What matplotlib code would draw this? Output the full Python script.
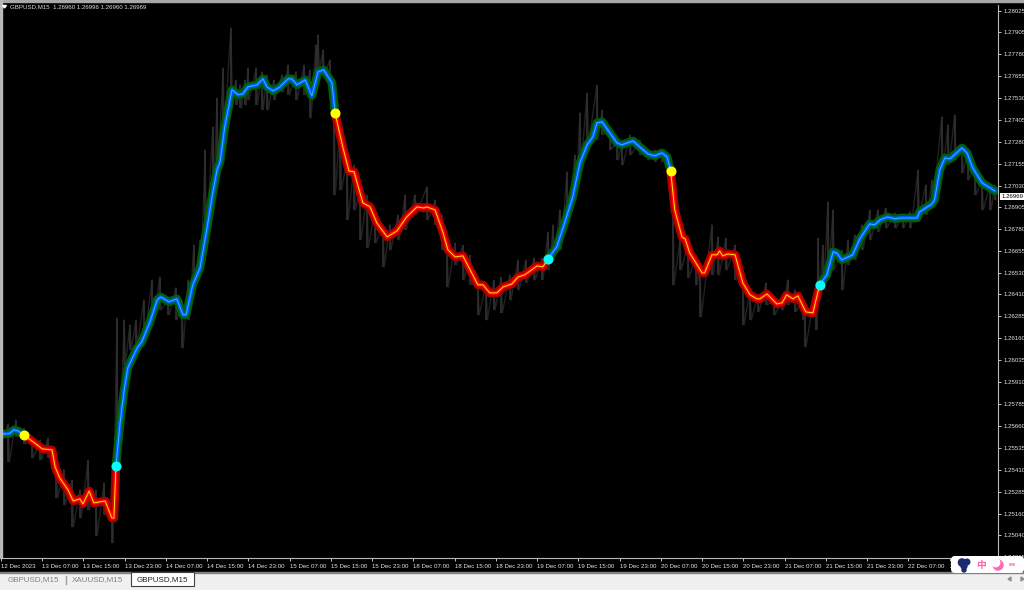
import matplotlib
matplotlib.use("Agg")
import matplotlib.pyplot as plt
from matplotlib.patches import Rectangle, FancyBboxPatch, Circle

plt.rcParams['font.family'] = ['Liberation Sans', 'Noto Sans CJK SC', 'DejaVu Sans']

# x values are hours of trading time since the first bar on the chart
# smoothed line, one list pair per colour run
seg1_h = [0, 1.0, 1.7, 2.5, 3.3, 4.5]
seg1_p = [1.25614, 1.25614, 1.25617, 1.25637, 1.25631, 1.25608]

seg2_h = [4.5, 8.0, 9.9, 10.5, 11.4, 13.0, 14.0, 15.3, 15.9, 17.1, 18.0, 20.2, 21.5, 21.9, 22.3]
seg2_p = [1.25608, 1.25529, 1.25523, 1.25426, 1.25363, 1.25295, 1.25232, 1.25244, 1.25215,
          1.25289, 1.25221, 1.25232, 1.25135, 1.25135, 1.25432]

seg3_h = [22.3, 23.1, 23.9, 24.6, 26.4, 27.3, 28.9, 30.3, 31.0, 32.6, 34.1, 35.3, 35.9, 37.2,
          38.6, 40.0, 40.9, 41.9, 42.5, 43.4, 44.8, 46.0, 46.9, 47.9, 49.7, 50.8, 51.6, 52.8,
          54.1, 55.7, 56.4, 57.4, 59.0, 60.3, 61.5, 62.6, 64.2, 64.8]
seg3_p = [1.25432, 1.25677, 1.25865, 1.25990, 1.26104, 1.26139, 1.26253, 1.26378, 1.26395,
          1.26367, 1.26384, 1.26293, 1.26293, 1.26464, 1.26560, 1.26794, 1.26959, 1.27119,
          1.27165, 1.27364, 1.27575, 1.27547, 1.27552, 1.27592, 1.27604, 1.27638, 1.27592,
          1.27569, 1.27592, 1.27638, 1.27638, 1.27604, 1.27632, 1.27541, 1.27678, 1.27689,
          1.27615, 1.27444]

seg4_h = [64.8, 66.3, 67.5, 68.5, 69.2, 70.2, 71.6, 72.9, 74.9, 76.8, 78.7, 80.7, 82.0, 82.6,
          84.2, 85.7, 86.7, 88.1, 89.6, 91.5, 92.5, 93.5, 94.8, 96.2, 97.4, 99.1, 100.3, 101.6,
          104.0, 105.1, 106.1]
seg4_p = [1.27444, 1.27250, 1.27113, 1.27108, 1.27033, 1.26931, 1.26908, 1.26817, 1.26737,
          1.26771, 1.26851, 1.26908, 1.26902, 1.26908, 1.26891, 1.26766, 1.26663, 1.26623,
          1.26629, 1.26521, 1.26464, 1.26464, 1.26418, 1.26418, 1.26452, 1.26469, 1.26509,
          1.26521, 1.26572, 1.26566, 1.26612]

seg5_h = [106.1, 107.8, 109.4, 110.9, 112.3, 113.7, 114.8, 115.6, 116.6, 117.7, 119.5, 120.4,
          122.6, 123.9, 125.5, 126.8, 128.2, 129.2, 129.9]
seg5_p = [1.26612, 1.26680, 1.26823, 1.26965, 1.27159, 1.27262, 1.27307, 1.27387, 1.27393,
          1.27347, 1.27273, 1.27262, 1.27284, 1.27250, 1.27210, 1.27199, 1.27216, 1.27193, 1.27113]

seg6_h = [129.9, 130.7, 132.1, 132.7, 133.6, 136.0, 136.5, 137.9, 138.9, 139.4, 140.0, 141.0,
          142.4, 143.9, 145.3, 146.6, 147.2, 148.6, 150.5, 151.5, 152.4, 153.6, 154.6, 156.1,
          157.5, 158.8]
seg6_p = [1.27113, 1.26891, 1.26737, 1.26726, 1.26646, 1.26532, 1.26532, 1.26635, 1.26635,
          1.26657, 1.26629, 1.26640, 1.26635, 1.26475, 1.26407, 1.26384, 1.26384, 1.26412,
          1.26355, 1.26361, 1.26407, 1.26384, 1.26401, 1.26310, 1.26304, 1.26464]

seg7_h = [158.8, 160.2, 161.4, 162.1, 163.1, 165.2, 166.6, 168.5, 169.5, 170.5, 172.0, 173.4,
          174.4, 177.7, 178.2, 180.6, 181.1, 182.1, 183.1, 184.1, 186.4, 187.4, 188.5, 190.3, 192.8]
seg7_p = [1.26464, 1.26521, 1.26652, 1.26646, 1.26606, 1.26635, 1.26726, 1.26811, 1.26806,
          1.26834, 1.26851, 1.26840, 1.26845, 1.26845, 1.26880, 1.26925, 1.26948, 1.27119,
          1.27187, 1.27182, 1.27244, 1.27216, 1.27130, 1.27045, 1.26999]

# raw price swings behind the smoothed line
raw_h = [0, 1.4, 2.9, 4.5, 6.0, 7.6, 9.1, 10.7, 12.2, 13.8, 15.3, 16.9, 18.4, 20.0, 21.5, 22.5,
         23.9, 25.0, 26.2, 27.7, 29.3, 30.8, 32.4, 33.9, 35.1, 36.3, 37.4, 38.6, 39.6, 41.1,
         41.9, 43.1, 44.6, 45.6, 46.4, 47.3, 47.9, 49.5, 50.6, 51.6, 52.9, 54.5, 55.7, 57.2,
         58.8, 59.9, 61.1, 61.5, 62.5, 63.8, 64.6, 65.8, 67.1, 68.5, 69.6, 71.0, 72.5, 74.1,
         75.4, 77.0, 78.4, 80.3, 82.6, 84.2, 85.5, 86.5, 88.1, 89.6, 91.0, 92.5, 94.1, 95.6,
         97.0, 98.7, 100.3, 101.8, 103.4, 104.9, 106.1, 107.1, 108.4, 109.8, 111.3, 112.3,
         113.7, 115.6, 116.6, 118.1, 119.5, 120.4, 122.0, 123.9, 125.5, 126.8, 128.2, 129.8,
         130.3, 131.7, 133.2, 134.8, 135.6, 137.9, 139.1, 140.6, 142.4, 143.9, 145.3, 146.8,
         148.4, 149.9, 151.5, 152.6, 154.0, 155.5, 155.9, 157.3, 158.1, 158.5, 159.4, 160.4,
         161.4, 163.1, 164.3, 165.6, 167.0, 168.5, 170.1, 171.6, 173.4, 174.9, 176.3, 177.9,
         179.4, 180.6, 182.5, 183.7, 185.0, 186.4, 187.5, 188.9, 190.3, 191.8, 192.8]
raw_hi = [1.25671, 1.25671, 1.25694, 1.25648, 1.25580, 1.25580, 1.25591, 1.25494, 1.25409,
          1.25352, 1.25295, 1.25466, 1.25295, 1.25335, 1.25181, 1.26275, 1.26264, 1.26235,
          1.26264, 1.26378, 1.26492, 1.26509, 1.26378, 1.26447, 1.26378, 1.26492, 1.26691,
          1.26720, 1.27233, 1.27364, 1.27529, 1.27700, 1.27928, 1.27632, 1.27603, 1.27632,
          1.27700, 1.27700, 1.27678, 1.27660, 1.27632, 1.27660, 1.27717, 1.27678, 1.27717,
          1.27689, 1.27831, 1.27889, 1.27803, 1.27746, 1.27575, 1.27404, 1.27176, 1.27147,
          1.27005, 1.26977, 1.26891, 1.26806, 1.26806, 1.26863, 1.26977, 1.26977, 1.27022,
          1.26948, 1.26863, 1.26720, 1.26703, 1.26691, 1.26634, 1.26492, 1.26464, 1.26492,
          1.26509, 1.26521, 1.26606, 1.26606, 1.26617, 1.26617, 1.26766, 1.26806, 1.26891,
          1.27108, 1.27205, 1.27444, 1.27558, 1.27603, 1.27461, 1.27347, 1.27290, 1.27262,
          1.27319, 1.27290, 1.27233, 1.27233, 1.27233, 1.27176, 1.27119, 1.26720, 1.26691,
          1.26634, 1.26577, 1.26806, 1.26737, 1.26731, 1.26691, 1.26549, 1.26435, 1.26407,
          1.26475, 1.26378, 1.26378, 1.26492, 1.26435, 1.26378, 1.26293, 1.26321, 1.26464,
          1.26731, 1.26691, 1.26937, 1.26891, 1.26663, 1.26720, 1.26748, 1.26806, 1.26891,
          1.26891, 1.26902, 1.26874, 1.26868, 1.26880, 1.27119, 1.27034, 1.27062, 1.27421,
          1.27376, 1.27433, 1.27262, 1.27233, 1.27147, 1.27062, 1.27034, 1.27034]
raw_lo = [1.25580, 1.25455, 1.25597, 1.25557, 1.25477, 1.25466, 1.25477, 1.25249, 1.25210,
          1.25084, 1.25135, 1.25181, 1.25033, 1.25152, 1.24993, 1.25238, 1.26008, 1.26093,
          1.26122, 1.26178, 1.26235, 1.26321, 1.26293, 1.26264, 1.26104, 1.26264, 1.26435,
          1.26549, 1.26720, 1.27005, 1.27147, 1.27347, 1.27546, 1.27490, 1.27472, 1.27490,
          1.27518, 1.27490, 1.27461, 1.27461, 1.27518, 1.27564, 1.27546, 1.27518, 1.27546,
          1.27415, 1.27632, 1.27689, 1.27660, 1.27575, 1.26977, 1.27005, 1.26834, 1.26891,
          1.26720, 1.26674, 1.26703, 1.26566, 1.26663, 1.26720, 1.26777, 1.26863, 1.26834,
          1.26806, 1.26663, 1.26452, 1.26578, 1.26492, 1.26464, 1.26293, 1.26264, 1.26321,
          1.26304, 1.26378, 1.26435, 1.26475, 1.26492, 1.26492, 1.26549, 1.26606, 1.26663,
          1.26823, 1.26977, 1.27147, 1.27262, 1.27290, 1.27319, 1.27233, 1.27176, 1.27147,
          1.27205, 1.27205, 1.27176, 1.27165, 1.27165, 1.27091, 1.26464, 1.26549, 1.26504,
          1.26464, 1.26281, 1.26520, 1.26520, 1.26549, 1.26492, 1.26235, 1.26264, 1.26310,
          1.26350, 1.26293, 1.26321, 1.26350, 1.26310, 1.26264, 1.26110, 1.26321, 1.26207,
          1.26378, 1.26464, 1.26549, 1.26549, 1.26435, 1.26577, 1.26606, 1.26663, 1.26720,
          1.26766, 1.26788, 1.26788, 1.26788, 1.26788, 1.26863, 1.26863, 1.26920, 1.27119,
          1.27147, 1.27176, 1.27102, 1.27062, 1.26977, 1.26891, 1.26891, 1.26948]

# signal dots
yellow_h = [4.5, 64.8, 129.9]
yellow_p = [1.25608, 1.27444, 1.27113]
cyan_h = [22.3, 106.1, 158.8]
cyan_p = [1.25432, 1.26612, 1.26464]

price_ticks = [1.28025, 1.27905, 1.27780, 1.27655, 1.27530, 1.27405, 1.27280, 1.27155, 1.27030,
               1.26905, 1.26780, 1.26655, 1.26530, 1.26410, 1.26285, 1.26160, 1.26035, 1.25910,
               1.25785, 1.25660, 1.25535, 1.25410, 1.25285, 1.25160, 1.25040, 1.24915]
time_labels = ['12 Dec 2023', '13 Dec 07:00', '13 Dec 15:00', '13 Dec 23:00', '14 Dec 07:00',
               '14 Dec 15:00', '14 Dec 23:00', '15 Dec 07:00', '15 Dec 15:00', '15 Dec 23:00',
               '18 Dec 07:00', '18 Dec 15:00', '18 Dec 23:00', '19 Dec 07:00', '19 Dec 15:00',
               '19 Dec 23:00', '20 Dec 07:00', '20 Dec 15:00', '20 Dec 23:00', '21 Dec 07:00',
               '21 Dec 15:00', '21 Dec 23:00', '22 Dec 07:00', '22 Dec 15:00']
last_price = 1.26969

W, H = 1024, 590
fig = plt.figure(figsize=(W / 100, H / 100), dpi=100, facecolor='black')
ax = fig.add_axes([1 / W, 1 - 558 / H, 997 / W, 553 / H], facecolor='black')
ax.set_xlim(0, 193.4)
ax.set_ylim(1.24907, 1.28059)

# raw price, zigzag between each high and low
zig_x, zig_y = [], []
for h, hi, lo in zip(raw_h, raw_hi, raw_lo):
    zig_x += [h, h + 0.25]
    zig_y += [hi, lo]
ax.plot(zig_x, zig_y, color='#222222', lw=1.0, zorder=1)
ax.vlines(raw_h, raw_lo, raw_hi, color='#2e2e2e', lw=1.3, zorder=1)

def draw_run(h, p, outer, middle, inner):
    ax.plot(h, p, color=outer, lw=6.2, solid_joinstyle='round', solid_capstyle='round', zorder=2)
    ax.plot(h, p, color=middle, lw=2.8, solid_joinstyle='round', solid_capstyle='round', zorder=3)
    ax.plot(h, p, color=inner, lw=0.7, solid_joinstyle='round', solid_capstyle='round', zorder=4)

BLUE = ('#006000', '#0058ff', '#30b8ff')
RED = ('#a80000', '#ff0000', '#ffe800')
draw_run(seg1_h, seg1_p, *BLUE)
draw_run(seg3_h, seg3_p, *BLUE)
draw_run(seg5_h, seg5_p, *BLUE)
draw_run(seg7_h, seg7_p, *BLUE)
draw_run(seg2_h, seg2_p, *RED)
draw_run(seg4_h, seg4_p, *RED)
draw_run(seg6_h, seg6_p, *RED)

ax.plot(yellow_h, yellow_p, 'o', color='#ffff00', ms=7.2, mew=0, zorder=5)
ax.plot(cyan_h, cyan_p, 'o', color='#00ffff', ms=7.2, mew=0, zorder=5)

ax.yaxis.tick_right()
ax.set_yticks(price_ticks)
ax.set_yticklabels(['%.5f' % p for p in price_ticks])
ax.set_xticks([8 * i for i in range(len(time_labels))])
ax.set_xticklabels(time_labels, ha='left')
ax.tick_params(axis='both', colors='#e4e4e4', labelsize=4.4, length=2, width=0.6, pad=2)
for side in ax.spines:
    ax.spines[side].set_color('#b8b8b8')
    ax.spines[side].set_linewidth(0.8)
ax.spines['top'].set_visible(False)

# current price tag
ax.annotate('%.5f' % last_price, xy=(1, last_price), xycoords=('axes fraction', 'data'),
            xytext=(2.6, 0), textcoords='offset points', va='center', fontsize=4.4, color='black',
            bbox=dict(boxstyle='square,pad=0.2', fc='white', ec='none'), annotation_clip=False, zorder=8)

# terminal window parts, in pixels
ui = fig.add_axes([0, 0, 1, 1], facecolor='none')
ui.set_xlim(0, W)
ui.set_ylim(H, 0)
ui.axis('off')
ui.add_patch(Rectangle((0, 0), W, 1.5, color='#a8a8a8'))
ui.add_patch(Rectangle((0, 0), 1.5, 558, color='#b8b8b8'))
ui.fill([2.5, 6.5, 4.5], [5.5, 5.5, 8], color='white')
ui.text(10.5, 6.8, 'GBPUSD,M15  1.26960 1.26996 1.26960 1.26969', color='#e0e0e0', fontsize=4.4, va='center')

ui.add_patch(Rectangle((0, 573), W, 17, color='#f0f0f0'))
ui.add_patch(Rectangle((0, 572), W, 1, color='#808080'))
ui.add_patch(Rectangle((131, 572), 63, 14, fc='white', ec='#404040', lw=0.8))
ui.plot([66, 66], [576, 584], color='#a0a0a0', lw=1)
ui.text(8, 580, 'GBPUSD,M15', color='#808080', fontsize=5.8, va='center')
ui.text(72, 580, 'XAUUSD,M15', color='#808080', fontsize=5.8, va='center')
ui.text(137, 580, 'GBPUSD,M15', color='#202020', fontsize=5.8, va='center')
ui.fill([1011, 1008, 1011], [577, 579, 581], color='#909090')
ui.fill([1021, 1024, 1021], [577, 579, 581], color='#909090')

# input method widget in the corner
ui.add_patch(FancyBboxPatch((951, 556), 73, 17, boxstyle='round,pad=0,rounding_size=4', fc='white', ec='none', zorder=6))
for cx, cy, r in [(962, 562.5, 3.6), (967, 562, 2.8), (964, 566, 3.0), (964, 570, 2.0)]:
    ui.add_patch(Circle((cx, cy), r, color='#1a2a6c', zorder=7))
ui.text(981, 565, '中', color='#ff5fae', fontsize=7, fontweight='bold', ha='center', va='center', zorder=7,
        family=['Noto Sans CJK SC', 'DejaVu Sans'])
ui.add_patch(Circle((998, 565), 5, color='#ff69b4', zorder=7))
ui.add_patch(Circle((995.5, 562.5), 4.2, color='white', zorder=7))
ui.add_patch(Circle((1010.5, 564.5), 0.9, color='#ff9ccc', zorder=7))
ui.add_patch(Circle((1013.5, 564.5), 0.9, color='#ff9ccc', zorder=7))

fig.savefig('out.png', dpi=100, facecolor='black')
